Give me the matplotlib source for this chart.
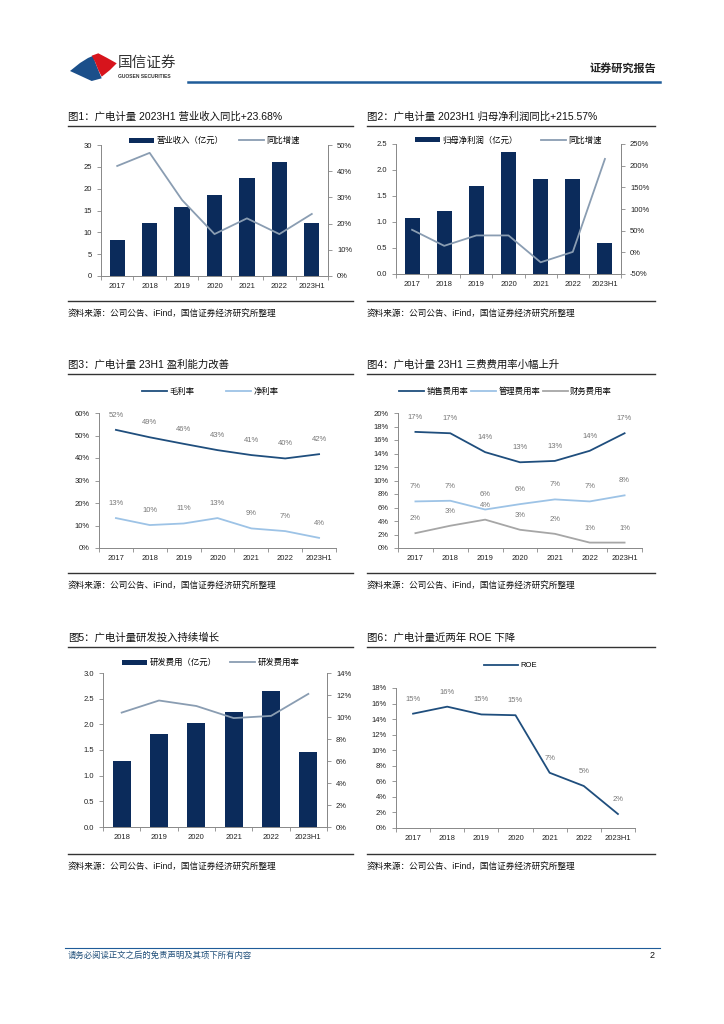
import numpy as np
import matplotlib
matplotlib.use("Agg")
import matplotlib.pyplot as plt
from matplotlib.patches import Polygon
from matplotlib.lines import Line2D

plt.rcParams['font.family'] = ['Liberation Sans', 'Noto Sans CJK SC', 'DejaVu Sans']
plt.rcParams['axes.unicode_minus'] = False

W, H = 724, 1024

# ---- data ----
years7 = ['2017', '2018', '2019', '2020', '2021', '2022', '2023H1']
years6 = ['2018', '2019', '2020', '2021', '2022', '2023H1']

revenue = [8.3, 12.2, 15.8, 18.5, 22.5, 26.1, 12.2]
revenue_yoy = [42, 47, 29, 16, 22, 16, 23.68]

netprofit = [1.07, 1.22, 1.70, 2.35, 1.82, 1.83, 0.60]
netprofit_yoy = [52, 15, 39, 39, -23, 1, 215.57]

gross_margin = [52.5, 49.2, 46.3, 43.5, 41.3, 39.8, 41.7]
net_margin = [13.3, 10.2, 10.9, 13.3, 8.7, 7.5, 4.5]
gross_lbl = ['52%', '49%', '46%', '43%', '41%', '40%', '42%']
net_lbl = ['13%', '10%', '11%', '13%', '9%', '7%', '4%']

sales_rate = [17.2, 17.0, 14.2, 12.7, 12.9, 14.4, 17.0]
admin_rate = [6.9, 7.0, 5.7, 6.5, 7.2, 6.9, 7.8]
fin_rate = [2.2, 3.3, 4.2, 2.7, 2.1, 0.8, 0.8]
sales_lbl = ['17%', '17%', '14%', '13%', '13%', '14%', '17%']
admin_lbl = ['7%', '7%', '6%', '6%', '7%', '7%', '8%']
fin_lbl = ['2%', '3%', '4%', '3%', '2%', '1%', '1%']

rd_cost = [1.29, 1.82, 2.02, 2.25, 2.64, 1.47]
rd_rate = [10.4, 11.5, 11.0, 9.9, 10.1, 12.1]

roe = [14.7, 15.6, 14.6, 14.5, 7.1, 5.4, 1.8]
roe_lbl = ['15%', '16%', '15%', '15%', '7%', '5%', '2%']

NAVY = '#0B2B5B'
GREYBLUE = '#8A9DB2'
DARK = '#1F4E7D'
LIGHT = '#9DC3E6'
GREY = '#A6A6A6'
TXT = '#222222'

fig = plt.figure(figsize=(W / 100, H / 100), dpi=100)


def px_axes(l, t, r, b):
    return fig.add_axes([l / W, 1 - b / H, (r - l) / W, (b - t) / H])


def ftext(x, y, s, **kw):
    fig.text(x / W, 1 - y / H, s, **kw)


def fline(x0, x1, y, color='#333333', lw=0.8):
    fig.add_artist(Line2D([x0 / W, x1 / W], [1 - y / H, 1 - y / H], color=color, lw=lw))


def fpoly(pts, color):
    fig.add_artist(Polygon([[x / W, 1 - y / H] for x, y in pts], closed=True,
                           color=color, transform=fig.transFigure, lw=0))


def style_axes(ax, n, right=False):
    ax.spines['top'].set_visible(False)
    ax.spines['right'].set_visible(right)
    for s in ['left', 'bottom', 'right']:
        ax.spines[s].set_color('#888888')
        ax.spines[s].set_linewidth(0.7)
    ax.set_xlim(-0.5, n - 0.5)
    ax.set_xticks(np.arange(n))
    ax.tick_params(axis='x', length=0, labelsize=5.5, pad=5, colors=TXT)
    ax.set_xticks(np.arange(n + 1) - 0.5, minor=True)
    ax.tick_params(axis='x', which='minor', length=3, color='#888888', width=0.6)
    ax.tick_params(axis='y', length=3, labelsize=5.5, colors=TXT, color='#888888', width=0.6)
    ax.patch.set_alpha(0)


def style_twin(axb):
    axb.tick_params(axis='y', length=3, labelsize=5.5, colors=TXT, color='#888888', width=0.6)
    for s in ['top', 'left', 'bottom']:
        axb.spines[s].set_visible(False)
    axb.spines['right'].set_color('#888888')
    axb.spines['right'].set_linewidth(0.7)


def header_block(x0, x1, title, ytitle, src_y):
    ftext(x0, ytitle, title, fontsize=7.5, va='center', ha='left', color='#111111')
    fline(x0, x1, ytitle + 9, color='#333333', lw=1.0)
    fline(x0, x1, src_y, color='#333333', lw=1.0)
    ftext(x0, src_y + 12, '资料来源：公司公告、iFind，国信证券经济研究所整理', fontsize=6.2,
          va='center', ha='left', color='#111111')


def label_points(ax, x, y, labels):
    for xi, yi, lb in zip(x, y, labels):
        ax.annotate(lb, (xi, yi), xytext=(0, 10.5), textcoords='offset points',
                    ha='center', va='center', fontsize=5.5, color='#777777')


# ---- page header ----
fpoly([(70, 71), (80, 63), (88, 58), (93.3, 55.7), (95, 61.7), (98.3, 70),
       (101.7, 78.3), (91.7, 81)], '#1B4F8A')
fpoly([(91.7, 55.7), (98.3, 53.3), (106.7, 57.7), (116.7, 63.3), (110, 70),
       (101.7, 76.7), (98.3, 70), (95, 61.7)], '#D7141C')
ftext(118, 63, '国信证券', fontsize=10.5, va='center', ha='left', color='#333333')
ftext(118, 77, 'GUOSEN SECURITIES', fontsize=3.6, va='center', ha='left',
      color='#333333', fontweight='bold')
ftext(656, 68, '证券研究报告', fontsize=8, va='center', ha='right', color='#222222',
      fontweight='bold')
fline(188, 660, 82, color='#1F5C99', lw=1.8)

# ---- chart 1 ----
header_block(68, 353, '图1：广电计量 2023H1 营业收入同比+23.68%', 117, 301)
ax1 = px_axes(101, 145, 328, 276)
x7 = np.arange(7)
ax1.bar(x7, revenue, width=0.47, color=NAVY, label='营业收入（亿元）')
ax1.set_ylim(0, 30)
ax1.set_yticks(np.arange(0, 31, 5))
ax1.set_xticklabels(years7)
style_axes(ax1, 7, right=True)
ax1b = ax1.twinx()
ax1b.plot(x7, revenue_yoy, color=GREYBLUE, lw=1.3, label='同比增速')
ax1b.set_ylim(0, 50)
ax1b.set_yticks(np.arange(0, 51, 10))
ax1b.set_yticklabels([f'{v}%' for v in range(0, 51, 10)])
style_twin(ax1b)
h1, l1 = ax1.get_legend_handles_labels()
h2, l2 = ax1b.get_legend_handles_labels()
ax1b.legend(h1 + h2, l1 + l2, loc='center', bbox_to_anchor=(0.5, 1.03), ncol=2, frameon=False,
            fontsize=6, handlelength=3.0, handleheight=0.6, columnspacing=1.8,
            handletextpad=0.3)

# ---- chart 2 ----
header_block(367, 655, '图2：广电计量 2023H1 归母净利润同比+215.57%', 117, 301)
ax2 = px_axes(396, 144, 621, 274)
ax2.bar(x7, netprofit, width=0.47, color=NAVY, label='归母净利润（亿元）')
ax2.set_ylim(0, 2.5)
ax2.set_yticks(np.arange(0, 2.51, 0.5))
ax2.set_yticklabels([f'{v:.1f}' for v in np.arange(0, 2.51, 0.5)])
ax2.set_xticklabels(years7)
style_axes(ax2, 7, right=True)
ax2b = ax2.twinx()
ax2b.plot(x7, netprofit_yoy, color=GREYBLUE, lw=1.3, label='同比增速')
ax2b.set_ylim(-50, 250)
ax2b.set_yticks(np.arange(-50, 251, 50))
ax2b.set_yticklabels([f'{v}%' for v in range(-50, 251, 50)])
style_twin(ax2b)
h1, l1 = ax2.get_legend_handles_labels()
h2, l2 = ax2b.get_legend_handles_labels()
ax2b.legend(h1 + h2, l1 + l2, loc='center', bbox_to_anchor=(0.5, 1.03), ncol=2, frameon=False,
            fontsize=6, handlelength=3.0, handleheight=0.6, columnspacing=2.8,
            handletextpad=0.3)

# ---- chart 3 ----
header_block(68, 353, '图3：广电计量 23H1 盈利能力改善', 365, 573)
ax3 = px_axes(99, 413, 336, 548)
ax3.plot(x7, gross_margin, color=DARK, lw=1.3, label='毛利率')
ax3.plot(x7, net_margin, color=LIGHT, lw=1.3, label='净利率')
label_points(ax3, x7, gross_margin, gross_lbl)
label_points(ax3, x7, net_margin, net_lbl)
ax3.set_ylim(0, 60)
ax3.set_yticks(np.arange(0, 61, 10))
ax3.set_yticklabels([f'{v}%' for v in range(0, 61, 10)])
ax3.set_xticklabels(years7)
style_axes(ax3, 7)
ax3.legend(loc='center', bbox_to_anchor=(0.47, 1.155), ncol=2, frameon=False,
           fontsize=6, handlelength=3.0, columnspacing=3.8, handletextpad=0.3)

# ---- chart 4 ----
header_block(367, 655, '图4：广电计量 23H1 三费费用率小幅上升', 365, 573)
ax4 = px_axes(398, 413, 642, 548)
ax4.plot(x7, sales_rate, color=DARK, lw=1.3, label='销售费用率')
ax4.plot(x7, admin_rate, color=LIGHT, lw=1.3, label='管理费用率')
ax4.plot(x7, fin_rate, color=GREY, lw=1.3, label='财务费用率')
label_points(ax4, x7, sales_rate, sales_lbl)
label_points(ax4, x7, admin_rate, admin_lbl)
label_points(ax4, x7, fin_rate, fin_lbl)
ax4.set_ylim(0, 20)
ax4.set_yticks(np.arange(0, 21, 2))
ax4.set_yticklabels([f'{v}%' for v in range(0, 21, 2)])
ax4.set_xticklabels(years7)
style_axes(ax4, 7)
ax4.legend(loc='center', bbox_to_anchor=(0.44, 1.155), ncol=3, frameon=False,
           fontsize=6, handlelength=3.0, columnspacing=0.3, handletextpad=0.3)

# ---- chart 5 ----
header_block(68, 353, '图5：广电计量研发投入持续增长', 638, 854)
ax5 = px_axes(103, 673, 327, 827)
x6 = np.arange(6)
ax5.bar(x6, rd_cost, width=0.48, color=NAVY, label='研发费用（亿元）')
ax5.set_ylim(0, 3.0)
ax5.set_yticks(np.arange(0, 3.01, 0.5))
ax5.set_yticklabels([f'{v:.1f}' for v in np.arange(0, 3.01, 0.5)])
ax5.set_xticklabels(years6)
style_axes(ax5, 6, right=True)
ax5b = ax5.twinx()
ax5b.plot(x6, rd_rate, color=GREYBLUE, lw=1.3, label='研发费用率')
ax5b.set_ylim(0, 14)
ax5b.set_yticks(np.arange(0, 15, 2))
ax5b.set_yticklabels([f'{v}%' for v in range(0, 15, 2)])
style_twin(ax5b)
h1, l1 = ax5.get_legend_handles_labels()
h2, l2 = ax5b.get_legend_handles_labels()
ax5b.legend(h1 + h2, l1 + l2, loc='center', bbox_to_anchor=(0.48, 1.065), ncol=2, frameon=False,
            fontsize=6, handlelength=3.0, handleheight=0.6, columnspacing=1.6,
            handletextpad=0.3)

# ---- chart 6 ----
header_block(367, 655, '图6：广电计量近两年 ROE 下降', 638, 854)
ax6 = px_axes(396, 688, 635, 828)
ax6.plot(x7, roe, color=DARK, lw=1.3, label='ROE')
label_points(ax6, x7, roe, roe_lbl)
ax6.set_ylim(0, 18)
ax6.set_yticks(np.arange(0, 19, 2))
ax6.set_yticklabels([f'{v}%' for v in range(0, 19, 2)])
ax6.set_xticklabels(years7)
style_axes(ax6, 7)
ax6.legend(loc='center', bbox_to_anchor=(0.48, 1.16), ncol=1, frameon=False,
           fontsize=5.5, handlelength=4.5, handletextpad=0.3)

# ---- footer ----
fline(65, 660, 948, color='#1F5C99', lw=0.8)
ftext(68, 956, '请务必阅读正文之后的免责声明及其项下所有内容', fontsize=6, va='center', ha='left',
      color='#1F4E79', style='italic')
ftext(655, 956, '2', fontsize=6.5, va='center', ha='right', color='#111111')

fig.savefig('out.png', dpi=100)
